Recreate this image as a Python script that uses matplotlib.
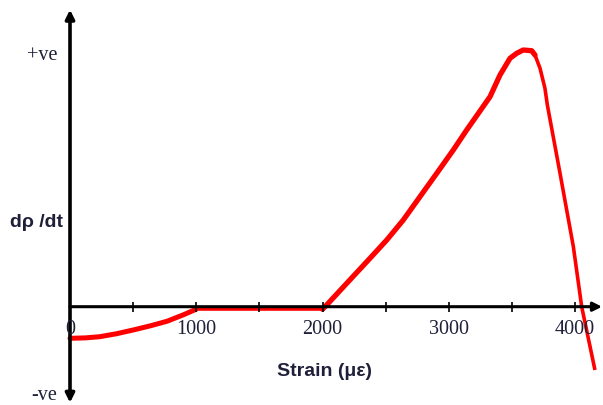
import matplotlib
matplotlib.use("Agg")
import matplotlib.pyplot as plt

# Data (arbitrary units of d(rho)/dt)
strain_comp = [0, 120, 236, 370, 500, 640, 770, 900, 1000]
rate_comp = [-31.6, -31.2, -30.0, -27.0, -23.3, -19.0, -14.5, -8.0, -2.5]

strain_flat = [1000, 2000]
rate_flat = [-2.5, -2.5]

strain_rise = [2000, 2033, 2192, 2376, 2509, 2640, 2772, 2905, 3036, 3142,
               3327, 3406, 3485, 3538, 3590, 3657, 3683]
rate_rise = [-2.5, 1.7, 23.4, 48.4, 66.7, 86.7, 110, 133.4, 156.7, 176.7,
             210, 231.7, 248.4, 253.4, 256.7, 256, 251.7]

strain_fall = [3683, 3723, 3762, 3781, 3881, 3987, 4053, 4158]
rate_fall = [251.7, 238.4, 218.4, 201.7, 133.7, 60, 0, -63.3]

xtick_vals = [0, 1000, 2000, 3000, 4000]
xtick_labels = ["0", "1000", "2000", "3000", "4000"]
minor_ticks = [500, 1000, 1500, 2000, 2500, 3000, 3500, 4000]
ytick_vals = [251.7, -88.3]
ytick_labels = ["+ve", "-ve"]

fig = plt.figure(figsize=(6.03, 4.05), dpi=100)
ax = fig.add_axes([0, 0, 1, 1])
ax.set_xlim(-554.5, 4221.8)
ax.set_ylim(-98.3, 306.7)
ax.axis("off")

red = "#ff0000"
ax.plot(strain_comp, rate_comp, color=red, lw=3.6, solid_capstyle="round",
        solid_joinstyle="round", zorder=2)
ax.plot(strain_flat, rate_flat, color=red, lw=2.6, zorder=2)
ax.plot(strain_rise, rate_rise, color=red, lw=3.8, solid_capstyle="round",
        solid_joinstyle="round", zorder=2)
ax.plot(strain_fall, rate_fall, color=red, lw=2.6, solid_capstyle="butt",
        solid_joinstyle="round", zorder=2)

# axes with arrows
ax.annotate("", xy=(0, 297), xytext=(0, -96),
            arrowprops=dict(arrowstyle="<|-|>", lw=2.6, color="black",
                            mutation_scale=13, shrinkA=0, shrinkB=0), zorder=3)
ax.annotate("", xy=(4214, 0), xytext=(0, 0),
            arrowprops=dict(arrowstyle="-|>", lw=2.2, color="black",
                            mutation_scale=13, shrinkA=0, shrinkB=0), zorder=3)
ax.vlines(minor_ticks, -5, 5, color="black", lw=1.2, zorder=3)

tc = "#1f1f3a"
for v, lab in zip(xtick_vals, xtick_labels):
    ax.text(v, -23.3, lab, ha="center", va="center", fontsize=14.5,
            family="Liberation Serif", color=tc)
for v, lab in zip(ytick_vals, ytick_labels):
    ax.text(-103, v, lab, ha="right", va="center", fontsize=14.5,
            family="Liberation Serif", color=tc)

ax.text(2012, -65, "Strain (\u03bc\u03b5)", ha="center", va="center", fontsize=14,
        family="Liberation Sans", weight="bold", color=tc)
ax.text(-475, 84, "d\u03c1 /dt", ha="left", va="center", fontsize=14,
        family="Liberation Sans", weight="bold", color=tc)

fig.savefig("out.png", dpi=100)
